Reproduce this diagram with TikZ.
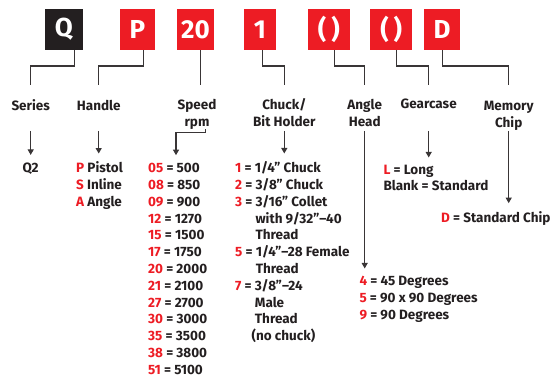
\documentclass[tikz,border=0pt]{standalone}
\usepackage{fontspec}
\setmainfont{Fira Sans}
\usepackage{xcolor}
\usetikzlibrary{arrows.meta}

\definecolor{codered}{HTML}{ED1C24}
\definecolor{codeblack}{HTML}{231F20}
\newcommand{\rd}[1]{\textcolor{codered}{#1}}

\tikzset{
	codebox/.style={fill=codered, text=white, minimum height=41pt, inner sep=0pt,
		font=\fontsize{26}{26}\selectfont\bfseries},
	lbl/.style={font=\fontsize{13.5}{16.8}\selectfont\bfseries, text=codeblack,
		align=center, inner sep=0pt, anchor=base},
	lst/.style={font=\fontsize{13.5}{16.8}\selectfont\bfseries, text=codeblack,
		align=left, inner sep=0pt, anchor=base west},
	link/.style={draw=codeblack!90, line width=1.1pt},
	pick/.style={link, -{Triangle[length=5.5pt,width=6pt]}, shorten >=8pt}
}

\begin{document}
\begin{tikzpicture}[x=1pt,y=-1pt]
	\useasboundingbox (0,0) rectangle (552,379);

	% Code boxes
	\node[codebox, fill=codeblack, minimum width=37.7pt] (bq) at (63.9,29.5) {Q};
	\node[codebox, minimum width=35pt] (bp) at (137.5,29.5) {P};
	\node[codebox, minimum width=37.6pt] (b20) at (195.5,29.5) {20};
	\node[codebox, minimum width=32pt] (b1) at (260,29.5) {1};
	\node[codebox, minimum width=41.7pt] (ba) at (328.8,29.5) {(\hspace{5pt})};
	\node[codebox, minimum width=41.7pt] (bg) at (391.2,29.5) {(\hspace{5pt})};
	\node[codebox, minimum width=36pt] (bd) at (442,29.5) {D};

	% Labels (base = last line)
	\node[lbl] (series) at (30.7,110.5) {Series};
	\node[lbl] (handle) at (98.7,110.5) {Handle};
	\node[lbl] (speed) at (197,126.3) {Speed\\rpm};
	\node[lbl] (chuck) at (284.3,126.8) {Chuck/\\Bit Holder};
	\node[lbl] (angle) at (364.7,126.8) {Angle\\Head};
	\node[lbl] (gear) at (428.7,109) {Gearcase};
	\node[lbl] (memory) at (508.7,127.3) {Memory\\Chip};

	\coordinate (elbow) at (0,66);
	\coordinate (tops) at (0,85);
	\coordinate (low) at (0,131);
	\coordinate (spk) at (176,0);

	% Box to label
	\foreach \b/\dx/\l in {bq/10.7/series, bp/5.8/handle, b1/2.7/chuck,
		ba/5.7/angle, bg/5.7/gear, bd/0.7/memory} {
		\draw[link] ([xshift=\dx pt]\b.south) |- (elbow -| \l) -- (\l |- tops);
	}
	\draw[link] ([xshift=5.2pt]b20.south) -- ([xshift=5.2pt]b20.south |- tops);

	% Options
	\node[lbl] (q2) at (30.5,172.7) {Q2};
	\node[lst] (handlist) at (76,206.3) {\rd{P} Pistol\\\rd{S} Inline\\\rd{A} Angle};
	\node[lst] (speedlist) at (148,374.3) {\rd{05} = 500\\\rd{08} = 850\\\rd{09} = 900\\
		\rd{12} = 1270\\\rd{15} = 1500\\\rd{17} = 1750\\\rd{20} = 2000\\\rd{21} = 2100\\
		\rd{27} = 2700\\\rd{30} = 3000\\\rd{35} = 3500\\\rd{38} = 3800\\\rd{51} = 5100};
	\node[lst] (chucklist) at (235,340.7) {\rd{1} = 1/4” Chuck\\\rd{2} = 3/8” Chuck\\
		\rd{3} = 3/16” Collet\\\hphantom{3 = }with 9/32”–40\\\hphantom{3 = }Thread\\
		\rd{5} = 1/4”–28 Female\\\hphantom{5 = }Thread\\\rd{7} = 3/8”–24\\
		\hphantom{7 = }Male\\\hphantom{7 = }Thread\\\hphantom{7 =}(no chuck)};
	\node[lst] (anglelist) at (359.3,319.6) {\rd{4} = 45 Degrees\\\rd{5} = 90 x 90 Degrees\\\rd{9} = 90 Degrees};
	\node[lst, font=\fontsize{13.5}{16}\selectfont\bfseries] (gearlist) at (383.3,191)
		{\rd{L} = Long\\Blank = Standard};
	\node[lst] (chiplist) at (441,222.3) {\rd{D} = Standard Chip};

	% Label to options
	\foreach \l/\t in {series/q2, handle/handlist, chuck/chucklist,
		angle/anglelist, gear/gearlist, memory/chiplist} {
		\draw[pick] (\l.south |- low) -- (\l.south |- \t.north);
	}
	\draw[pick] ([xshift=8.7pt]speed.south) -- ++(0,3) -| (spk |- speedlist.north);
\end{tikzpicture}
\end{document}
